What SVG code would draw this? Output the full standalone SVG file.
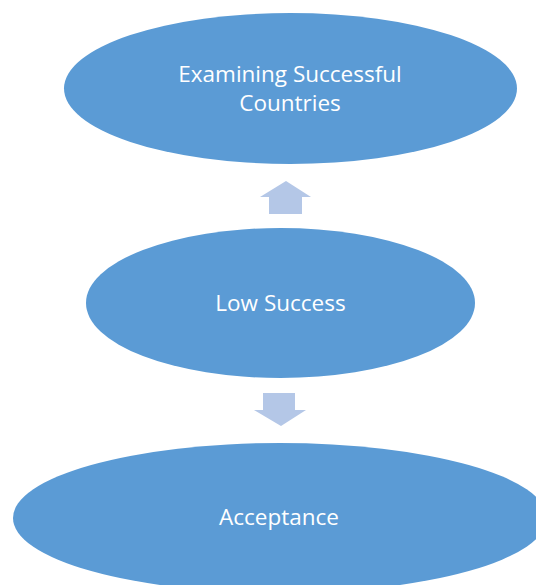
<svg xmlns="http://www.w3.org/2000/svg" width="536" height="585" viewBox="0 0 536 585">
  <style>
    .node { fill: #5B9BD5; }
    .label { fill: #FFFFFF; font-family: "Open Sans", "Noto Sans", "Liberation Sans", sans-serif; font-size: 22.5px; text-anchor: middle; }
    .arrow { fill: #B4C7E7; }
  </style>
  <rect width="536" height="585" fill="#FFFFFF"/>
  <g id="connectors">
    <polygon class="arrow" points="286,181 311,197 302,197 302,214 269,214 269,197 260,197"/>
    <polygon class="arrow" points="263,393 295,393 295,410 306,410 281,426 254,410 263,410"/>
  </g>
  <g id="node-examining">
    <ellipse class="node" cx="290.5" cy="88.5" rx="226.5" ry="75.5"/>
    <text class="label" x="290" y="82">Examining Successful</text>
    <text class="label" x="290" y="111">Countries</text>
  </g>
  <g id="node-low-success">
    <ellipse class="node" cx="280.5" cy="303" rx="194.5" ry="75"/>
    <text class="label" x="280.5" y="311">Low Success</text>
  </g>
  <g id="node-acceptance">
    <ellipse class="node" cx="280" cy="518" rx="267" ry="75"/>
    <text class="label" x="279" y="525">Acceptance</text>
  </g>
</svg>
